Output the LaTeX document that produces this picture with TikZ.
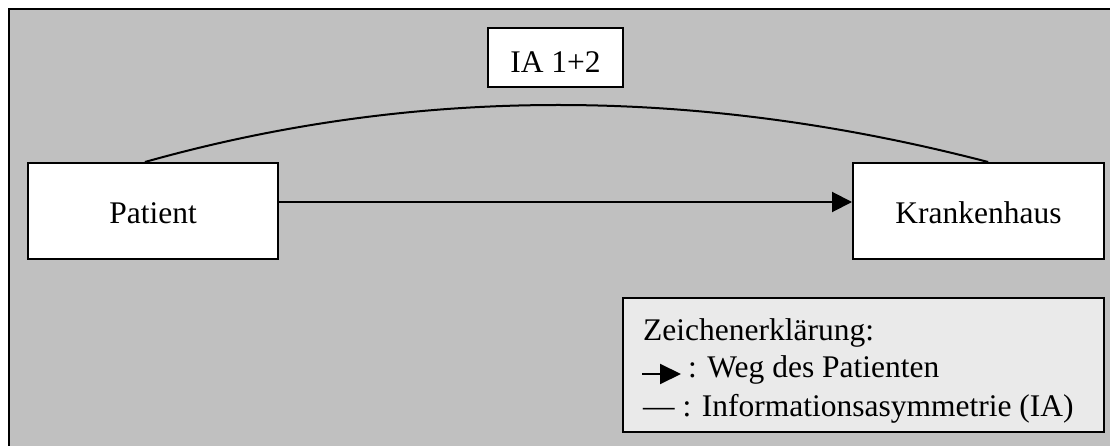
\documentclass[tikz,border=0pt]{standalone}
\usepackage{fontspec}
\setmainfont{Liberation Serif}
\usetikzlibrary{arrows.meta,calc}
\definecolor{bggray}{RGB}{192,192,192}
\definecolor{leggray}{RGB}{234,234,234}
\tikzset{
  box/.style={draw, line width=2pt, fill=white, inner sep=0pt, text depth=0pt},
  flow/.style={line width=2pt, -{Triangle[length=20pt,width=20pt]}},
  legtext/.style={anchor=base west, inner sep=0pt},
}
\begin{document}
\begin{tikzpicture}[x=1pt, y=-1pt, font=\fontsize{31.5}{38}\selectfont]
  \useasboundingbox (0,0) rectangle (1110,446);
  \fill[bggray] (9,9) rectangle (1110,446);
  \draw[line width=2pt] (9,446) -- (9,9) -- (1110,9);
  \node[box, text height=25pt, minimum width=250pt, minimum height=96pt] (patient) at (153,211) {Patient};
  \node[box, text height=25pt, minimum width=251pt, minimum height=96pt] (haus) at (978.5,211) {Krankenhaus};
  \node[box, text height=31pt, minimum width=135pt, minimum height=59pt] (ia) at (555.5,57.5) {IA 1+2};
  \draw[flow] ([yshift=9pt]patient.east) -- ([yshift=9pt]haus.west);
  \draw[line width=2pt] ($(patient.north west)!0.468!(patient.north east)$) .. controls (415,86) and (696,86) .. ($(haus.north west)!0.538!(haus.north east)$);
  \node[box, fill=leggray, minimum width=481pt, minimum height=134pt] (legend) at (863.5,365) {};
  \node[legtext] (leg1) at (643,340.5) {Zeichenerklärung:};
  \node[legtext] (leg2) at (688,377.5) {: Weg des Patienten};
  \node[legtext] (leg3) at (643,416) {— : Informationsasymmetrie (IA)};
  \coordinate (legarr) at (642,374);
  \draw[line width=2pt, -{Triangle[length=21pt,width=20pt]}, shorten >=7pt] (legarr) -- (legarr -| leg2.west);
\end{tikzpicture}
\end{document}
